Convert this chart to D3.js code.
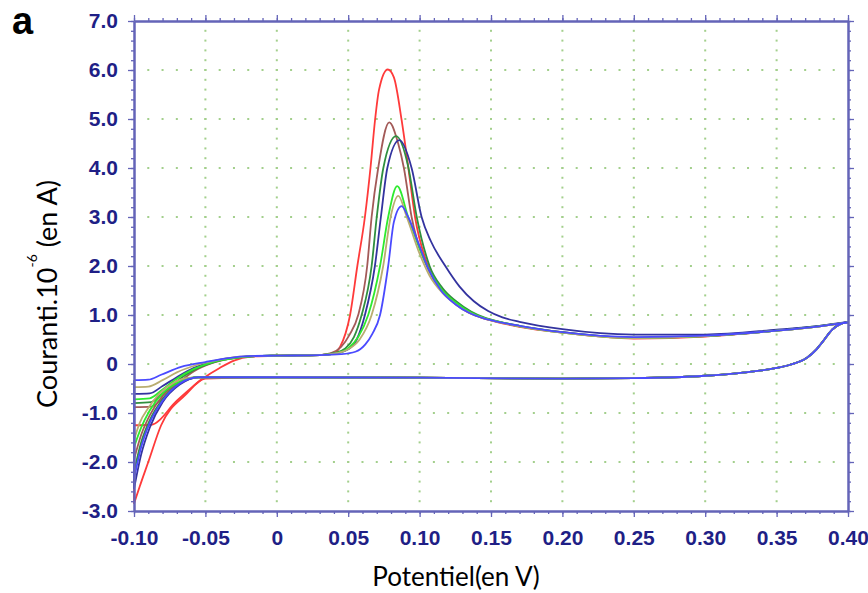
<!DOCTYPE html>
<html>
<head>
<meta charset="utf-8">
<script src="https://cdn.jsdelivr.net/npm/d3@7"></script>
<style>
    html, body { margin: 0; padding: 0; background: #fff; }
    svg { display: block; }
</style>
</head>
<body>
<svg id="chart" width="868" height="593"></svg>
<script>
/*************************************************
    Data (potential in V, current in 1e-6 A):
 *************************************************/
var xTicks = [-0.10, -0.05, 0, 0.05, 0.10, 0.15, 0.20, 0.25, 0.30, 0.35, 0.40];
var xTickLabels = ["-0.10", "-0.05", "0", "0.05", "0.10", "0.15", "0.20", "0.25", "0.30", "0.35", "0.40"];
var yTicks = [-3, -2, -1, 0, 1, 2, 3, 4, 5, 6, 7];
var yTickLabels = ["-3.0", "-2.0", "-1.0", "0", "1.0", "2.0", "3.0", "4.0", "5.0", "6.0", "7.0"];

var seriesNames = ["red", "brown", "darkgreen", "navy", "green", "olive", "blue"];
var seriesColors = ["#ff3a3a", "#a35a58", "#2f8f3f", "#33339f", "#2eea2e", "#b9ad70", "#4a4aff"];

// forward scan (upper branch), -0.1 -> 0.4
var redForward = [[-0.1,-1.25],[-0.088,-1.24],[-0.07,-0.75],[-0.052,-0.3],[-0.04,-0.08],[-0.03,0.07],[-0.018,0.15],[0,0.17],[0.03,0.18],[0.04,0.22],[0.0443,0.35],[0.0513,1.0],[0.0564,2.0],[0.0617,3.0],[0.0657,4.03],[0.0688,4.98],[0.0716,5.6],[0.0777,6.01],[0.082,5.85],[0.0874,4.98],[0.092,4.03],[0.0968,3.0],[0.106,2.0],[0.115,1.55],[0.125,1.25],[0.135,1.05],[0.145,0.93],[0.155,0.85],[0.17,0.76],[0.2,0.64],[0.25,0.52],[0.3,0.56],[0.35,0.68],[0.38,0.77],[0.4,0.85]];
var brownForward = [[-0.1,-0.88],[-0.088,-0.87],[-0.08,-0.7],[-0.07,-0.42],[-0.058,-0.15],[-0.045,0.02],[-0.03,0.12],[-0.015,0.16],[0,0.17],[0.03,0.18],[0.038,0.22],[0.045,0.35],[0.051,0.6],[0.057,1.0],[0.0633,2.0],[0.0664,3.0],[0.071,4.0],[0.0787,4.93],[0.085,4.5],[0.089,4.0],[0.0944,3.0],[0.105,2.0],[0.114,1.55],[0.124,1.25],[0.134,1.05],[0.145,0.93],[0.155,0.86],[0.17,0.77],[0.2,0.65],[0.25,0.53],[0.3,0.57],[0.35,0.68],[0.38,0.77],[0.4,0.85]];
var darkgreenForward = [[-0.1,-0.8],[-0.088,-0.78],[-0.08,-0.6],[-0.07,-0.35],[-0.058,-0.12],[-0.045,0.03],[-0.03,0.12],[-0.015,0.16],[0,0.17],[0.03,0.18],[0.04,0.22],[0.048,0.32],[0.054,0.55],[0.0594,1.0],[0.0664,2.0],[0.07,3.0],[0.0746,4.0],[0.0835,4.65],[0.092,4.03],[0.098,3.0],[0.107,2.0],[0.116,1.55],[0.126,1.27],[0.136,1.07],[0.146,0.94],[0.156,0.86],[0.17,0.78],[0.2,0.65],[0.25,0.54],[0.3,0.57],[0.35,0.68],[0.38,0.78],[0.4,0.85]];
var navyForward = [[-0.1,-0.61],[-0.089,-0.6],[-0.08,-0.45],[-0.07,-0.27],[-0.058,-0.08],[-0.045,0.05],[-0.03,0.13],[-0.015,0.16],[0,0.17],[0.03,0.18],[0.042,0.22],[0.05,0.3],[0.056,0.5],[0.0617,1.0],[0.0687,2.0],[0.0729,3.0],[0.0774,4.0],[0.0858,4.57],[0.0944,4.0],[0.1014,3.0],[0.108,2.5],[0.118,2.0],[0.128,1.58],[0.138,1.28],[0.148,1.08],[0.158,0.95],[0.17,0.86],[0.2,0.71],[0.25,0.6],[0.3,0.6],[0.35,0.7],[0.38,0.78],[0.4,0.86]];
var greenForward = [[-0.1,-0.72],[-0.089,-0.7],[-0.08,-0.52],[-0.07,-0.3],[-0.058,-0.1],[-0.045,0.04],[-0.03,0.12],[-0.015,0.16],[0,0.17],[0.03,0.18],[0.042,0.22],[0.05,0.32],[0.057,0.55],[0.064,1.0],[0.0723,2.0],[0.078,3.0],[0.0843,3.63],[0.092,3.0],[0.1,2.35],[0.107,1.9],[0.116,1.5],[0.126,1.24],[0.136,1.05],[0.146,0.93],[0.156,0.86],[0.17,0.77],[0.2,0.64],[0.25,0.53],[0.3,0.57],[0.35,0.68],[0.38,0.77],[0.4,0.85]];
var oliveForward = [[-0.1,-0.47],[-0.09,-0.46],[-0.08,-0.33],[-0.07,-0.17],[-0.055,-0.01],[-0.04,0.09],[-0.025,0.15],[0,0.17],[0.03,0.18],[0.042,0.22],[0.05,0.3],[0.058,0.5],[0.0664,1.0],[0.0745,2.0],[0.0797,3.0],[0.0851,3.43],[0.091,3.0],[0.1,2.25],[0.107,1.8],[0.116,1.45],[0.126,1.2],[0.136,1.03],[0.146,0.92],[0.156,0.85],[0.17,0.77],[0.2,0.64],[0.25,0.53],[0.3,0.57],[0.35,0.68],[0.38,0.77],[0.4,0.85]];
var blueForward = [[-0.1,-0.33],[-0.09,-0.32],[-0.081,-0.22],[-0.067,-0.06],[-0.05,0.04],[-0.034,0.12],[-0.02,0.16],[0,0.17],[0.03,0.18],[0.045,0.2],[0.055,0.25],[0.062,0.4],[0.067,0.62],[0.0723,1.0],[0.078,2.0],[0.082,2.9],[0.0874,3.22],[0.092,3.0],[0.1,2.4],[0.106,1.95],[0.115,1.5],[0.125,1.22],[0.135,1.04],[0.145,0.93],[0.155,0.86],[0.17,0.78],[0.2,0.65],[0.25,0.55],[0.3,0.58],[0.35,0.68],[0.38,0.77],[0.4,0.85]];

// reverse scan (lower branch), 0.4 -> -0.1
var redReverse = [[0.4,0.85],[0.395,0.82],[0.389,0.7],[0.383,0.48],[0.378,0.3],[0.371,0.12],[0.36,-0.01],[0.35,-0.08],[0.325,-0.18],[0.3,-0.24],[0.25,-0.29],[0.2,-0.3],[0.1,-0.28],[0,-0.27],[-0.05,-0.3],[-0.064,-0.63],[-0.081,-1.25],[-0.09,-2.0],[-0.096,-2.5],[-0.1,-2.85]];
var brownReverse = [[0.4,0.85],[0.395,0.82],[0.389,0.7],[0.383,0.48],[0.378,0.3],[0.371,0.12],[0.36,-0.01],[0.35,-0.08],[0.325,-0.18],[0.3,-0.24],[0.25,-0.29],[0.2,-0.3],[0.1,-0.28],[0,-0.27],[-0.055,-0.27],[-0.068,-0.38],[-0.08,-0.65],[-0.089,-1.05],[-0.095,-1.45],[-0.1,-1.95]];
var darkgreenReverse = [[0.4,0.85],[0.395,0.82],[0.389,0.7],[0.383,0.48],[0.378,0.3],[0.371,0.12],[0.36,-0.01],[0.35,-0.08],[0.325,-0.18],[0.3,-0.24],[0.25,-0.29],[0.2,-0.3],[0.1,-0.28],[0,-0.27],[-0.055,-0.27],[-0.068,-0.4],[-0.08,-0.72],[-0.089,-1.15],[-0.095,-1.6],[-0.1,-2.2]];
var navyReverse = [[0.4,0.86],[0.395,0.83],[0.389,0.71],[0.383,0.49],[0.378,0.31],[0.371,0.13],[0.36,-0.01],[0.35,-0.08],[0.325,-0.18],[0.3,-0.24],[0.25,-0.29],[0.2,-0.3],[0.1,-0.28],[0,-0.27],[-0.055,-0.27],[-0.068,-0.42],[-0.08,-0.78],[-0.089,-1.3],[-0.095,-1.85],[-0.1,-2.55]];
var greenReverse = [[0.4,0.85],[0.395,0.82],[0.389,0.7],[0.383,0.48],[0.378,0.3],[0.371,0.12],[0.36,-0.01],[0.35,-0.08],[0.325,-0.18],[0.3,-0.24],[0.25,-0.29],[0.2,-0.3],[0.1,-0.28],[0,-0.27],[-0.055,-0.27],[-0.068,-0.36],[-0.08,-0.6],[-0.089,-0.95],[-0.095,-1.3],[-0.1,-1.7]];
var oliveReverse = [[0.4,0.85],[0.395,0.82],[0.389,0.7],[0.383,0.48],[0.378,0.3],[0.371,0.12],[0.36,-0.01],[0.35,-0.08],[0.325,-0.18],[0.3,-0.24],[0.25,-0.29],[0.2,-0.3],[0.1,-0.28],[0,-0.27],[-0.06,-0.28],[-0.072,-0.38],[-0.082,-0.6],[-0.09,-0.9],[-0.096,-1.2],[-0.1,-1.55]];
var blueReverse = [[0.4,0.85],[0.395,0.82],[0.389,0.7],[0.383,0.48],[0.378,0.3],[0.371,0.12],[0.36,-0.01],[0.35,-0.08],[0.325,-0.18],[0.3,-0.24],[0.25,-0.29],[0.2,-0.3],[0.1,-0.28],[0,-0.27],[-0.055,-0.27],[-0.068,-0.4],[-0.08,-0.75],[-0.089,-1.2],[-0.095,-1.7],[-0.1,-2.35]];

var forwardScans = [redForward, brownForward, darkgreenForward, navyForward, greenForward, oliveForward, blueForward];
var reverseScans = [redReverse, brownReverse, darkgreenReverse, navyReverse, greenReverse, oliveReverse, blueReverse];

/*************************************************
    Layout:
 *************************************************/
var svg = d3.select("#chart");
var axisColor = "#6464b8";
var labelColor = "#1f1f86";
var gridColor = "#a3cf8c";

var x = d3.scaleLinear().domain([-0.1, 0.4]).range([134, 848]);
var y = d3.scaleLinear().domain([-3, 7]).range([511, 21]);

var xMinor = d3.range(-10, 41).map(function(d) { return d / 100; });
var yMinor = d3.range(-15, 36).map(function(d) { return d / 5; });

// dotted grid: dots sit on the minor tick positions
var grid = svg.append("g").attr("class", "grid");
yTicks.slice(1, -1).forEach(function(v) {
    grid.selectAll(null)
        .data(xMinor.slice(1, -1))
        .enter().append("rect")
        .attr("x", function(d) { return x(d) - 1; })
        .attr("y", y(v) - 1)
        .attr("width", 2).attr("height", 2)
        .attr("fill", gridColor);
});
xTicks.slice(1, -1).forEach(function(v) {
    grid.selectAll(null)
        .data(yMinor.slice(1, -1))
        .enter().append("rect")
        .attr("x", x(v) - 1)
        .attr("y", function(d) { return y(d) - 1; })
        .attr("width", 2).attr("height", 2)
        .attr("fill", gridColor);
});

// curves
svg.append("clipPath").attr("id", "plot-clip")
    .append("rect").attr("x", 133).attr("y", 20).attr("width", 716).attr("height", 492);

var line = d3.line()
    .x(function(d) { return x(d[0]); })
    .y(function(d) { return y(d[1]); })
    .curve(d3.curveMonotoneX);
var straight = d3.line()
    .x(function(d) { return x(d[0]); })
    .y(function(d) { return y(d[1]); });

var curves = svg.append("g").attr("clip-path", "url(#plot-clip)");
seriesNames.forEach(function(name, i) {
    var fwd = forwardScans[i];
    var rev = reverseScans[i].slice().sort(function(a, b) { return a[0] - b[0]; });
    var g = curves.append("g").attr("class", "series-" + name)
        .attr("fill", "none")
        .attr("stroke", seriesColors[i])
        .attr("stroke-width", 1.8);
    g.append("path").attr("d", line(rev));
    g.append("path").attr("d", line(fwd));
    // switching point at -0.1 V
    g.append("path").attr("d", straight([rev[0], fwd[0]]));
});

/*************************************************
    Axes:
 *************************************************/
function styleAxis(g) {
    g.select(".domain").attr("stroke", axisColor).attr("stroke-width", 2);
    g.selectAll(".tick line").attr("stroke", axisColor).attr("stroke-width", 1.3);
    g.selectAll(".tick text")
        .attr("fill", labelColor)
        .attr("font-family", "'Liberation Sans', Arial, sans-serif")
        .attr("font-size", 21)
        .attr("font-weight", "bold");
}

function minorAxis(axis, pos, values) {
    svg.append("g").attr("transform", pos)
        .call(axis.tickValues(values).tickSize(3).tickSizeOuter(0).tickFormat(""))
        .call(styleAxis);
}

minorAxis(d3.axisBottom(x), "translate(0,511)", xMinor);
minorAxis(d3.axisTop(x), "translate(0,21)", xMinor);
minorAxis(d3.axisLeft(y), "translate(134,0)", yMinor);
minorAxis(d3.axisRight(y), "translate(848,0)", yMinor);

svg.append("g").attr("transform", "translate(0,511)")
    .call(d3.axisBottom(x).tickValues(xTicks).tickSize(6).tickSizeOuter(0).tickPadding(13)
        .tickFormat(function(d, i) { return xTickLabels[i]; }))
    .call(styleAxis);
svg.append("g").attr("transform", "translate(0,21)")
    .call(d3.axisTop(x).tickValues(xTicks).tickSize(6).tickSizeOuter(0).tickFormat(""))
    .call(styleAxis);
svg.append("g").attr("transform", "translate(134,0)")
    .call(d3.axisLeft(y).tickValues(yTicks).tickSize(6).tickSizeOuter(0).tickPadding(10)
        .tickFormat(function(d, i) { return yTickLabels[i]; }))
    .call(styleAxis);
svg.append("g").attr("transform", "translate(848,0)")
    .call(d3.axisRight(y).tickValues(yTicks).tickSize(6).tickSizeOuter(0).tickFormat(""))
    .call(styleAxis);

/*************************************************
    Titles:
 *************************************************/
svg.append("text")
    .attr("x", 12).attr("y", 34)
    .attr("font-family", "'Liberation Sans', Arial, sans-serif")
    .attr("font-size", 38).attr("font-weight", "bold")
    .text("a");

svg.append("text")
    .attr("x", 456).attr("y", 586)
    .attr("text-anchor", "middle")
    .attr("font-family", "Lato, 'Open Sans', sans-serif")
    .attr("font-size", 26)
    .text("Potentiel(en V)");

var yTitle = svg.append("text")
    .attr("transform", "translate(57,294) rotate(-90)")
    .attr("text-anchor", "middle")
    .attr("font-family", "Lato, 'Open Sans', sans-serif")
    .attr("font-size", 27);
yTitle.append("tspan").text("Couranti.10");
yTitle.append("tspan").attr("dy", -20).attr("font-size", 14).text("-6");
yTitle.append("tspan").attr("dy", 20).text(" (en A)");
</script>
</body>
</html>
